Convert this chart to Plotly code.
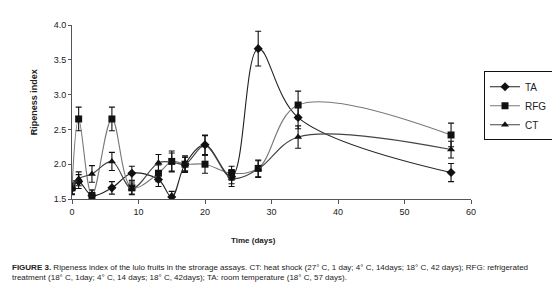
import plotly.graph_objects as go

days = [0, 1, 3, 6, 9, 13, 15, 17, 20, 24, 28, 34, 57]
ta = [1.65, 1.75, 1.55, 1.66, 1.87, 1.78, 1.53, 2.0, 2.28, 1.82, 3.66, 2.67, 1.88]
ta_err = [0.08, 0.1, 0.08, 0.09, 0.1, 0.1, 0.08, 0.1, 0.14, 0.1, 0.25, 0.16, 0.13]
rfg = [1.66, 2.65, 1.55, 2.65, 1.66, 1.87, 2.04, 2.0, 2.0, 1.87, 1.94, 2.85, 2.42]
rfg_err = [0.1, 0.17, 0.08, 0.17, 0.1, 0.12, 0.15, 0.12, 0.13, 0.1, 0.12, 0.2, 0.17]
ct = [1.65, 1.79, 1.86, 2.04, 1.65, 2.02, 2.03, 2.0, 2.27, 1.8, 1.93, 2.39, 2.21]
ct_err = [0.08, 0.1, 0.12, 0.13, 0.08, 0.12, 0.13, 0.1, 0.14, 0.12, 0.12, 0.16, 0.12]

FONT = "Liberation Sans, Arial, sans-serif"

fig = go.Figure()
def add(name, y, err, symbol, size, lcolor):
    fig.add_trace(go.Scatter(
        x=days, y=y, name=name, mode="lines+markers",
        line=dict(color=lcolor, width=1.1, shape="spline", smoothing=1.0),
        marker=dict(symbol=symbol, size=size, color="#111111"),
        error_y=dict(type="data", array=err, visible=True, color="#111111", thickness=1.1, width=3),
    ))

add("TA", ta, ta_err, "diamond", 7, "#222222")
add("RFG", rfg, rfg_err, "square", 7, "#777777")
add("CT", ct, ct_err, "triangle-up", 7, "#444444")

fig.update_layout(
    width=560, height=294,
    margin=dict(l=64, r=97, t=17, b=103, autoexpand=False),
    paper_bgcolor="white", plot_bgcolor="white",
    font=dict(family=FONT, size=9, color="#222222"),
    showlegend=True,
    legend=dict(x=(476 - 64) / 399, y=(190.7 - 63) / 174, xanchor="left", yanchor="top",
                bordercolor="#111111", borderwidth=1, bgcolor="white",
                font=dict(family=FONT, size=10), itemwidth=30, tracegroupgap=0,
                itemsizing="trace"),
    xaxis=dict(range=[0, 60], tickvals=[0, 10, 20, 30, 40, 50, 60], showline=True,
               linecolor="#555555", linewidth=1, ticks="outside", ticklen=4,
               tickcolor="#555555", showgrid=False, zeroline=False,
               tickfont=dict(family=FONT, size=9)),
    yaxis=dict(range=[1.5, 4.0], tickvals=[1.5, 2.0, 2.5, 3.0, 3.5, 4.0],
               tickformat=".1f", showline=True, linecolor="#555555", linewidth=1,
               ticks="outside", ticklen=3, tickcolor="#555555", showgrid=False,
               zeroline=False, tickfont=dict(family=FONT, size=9)),
)

fig.add_annotation(text="<b>Ripeness index</b>", xref="paper", yref="paper",
                   x=(26 - 64) / 399, y=(190.7 - 94) / 174, textangle=-90, showarrow=False,
                   font=dict(family=FONT, size=9), xanchor="center", yanchor="middle")
fig.add_annotation(text="<b>Time (days)</b>", xref="paper", yref="paper",
                   x=(245 - 64) / 399, y=(190.7 - 232) / 174, showarrow=False,
                   font=dict(family=FONT, size=8), xanchor="center", yanchor="middle")
fig.add_annotation(text="<b>FIGURE 3.</b> Ripeness index of the lulo fruits in the strorage assays. CT: heat shock (27° C, 1 day; 4° C, 14days; 18° C, 42 days); RFG: refrigerated<br>treatment (18° C, 1day; 4° C, 14 days; 18° C, 42days); TA: room temperature (18° C, 57 days).",
                   xref="paper", yref="paper", x=(2 - 64) / 399, y=(190.7 - 253) / 174,
                   showarrow=False, align="left", xanchor="left", yanchor="top",
                   font=dict(family=FONT, size=8))

fig.write_html("out.html")
